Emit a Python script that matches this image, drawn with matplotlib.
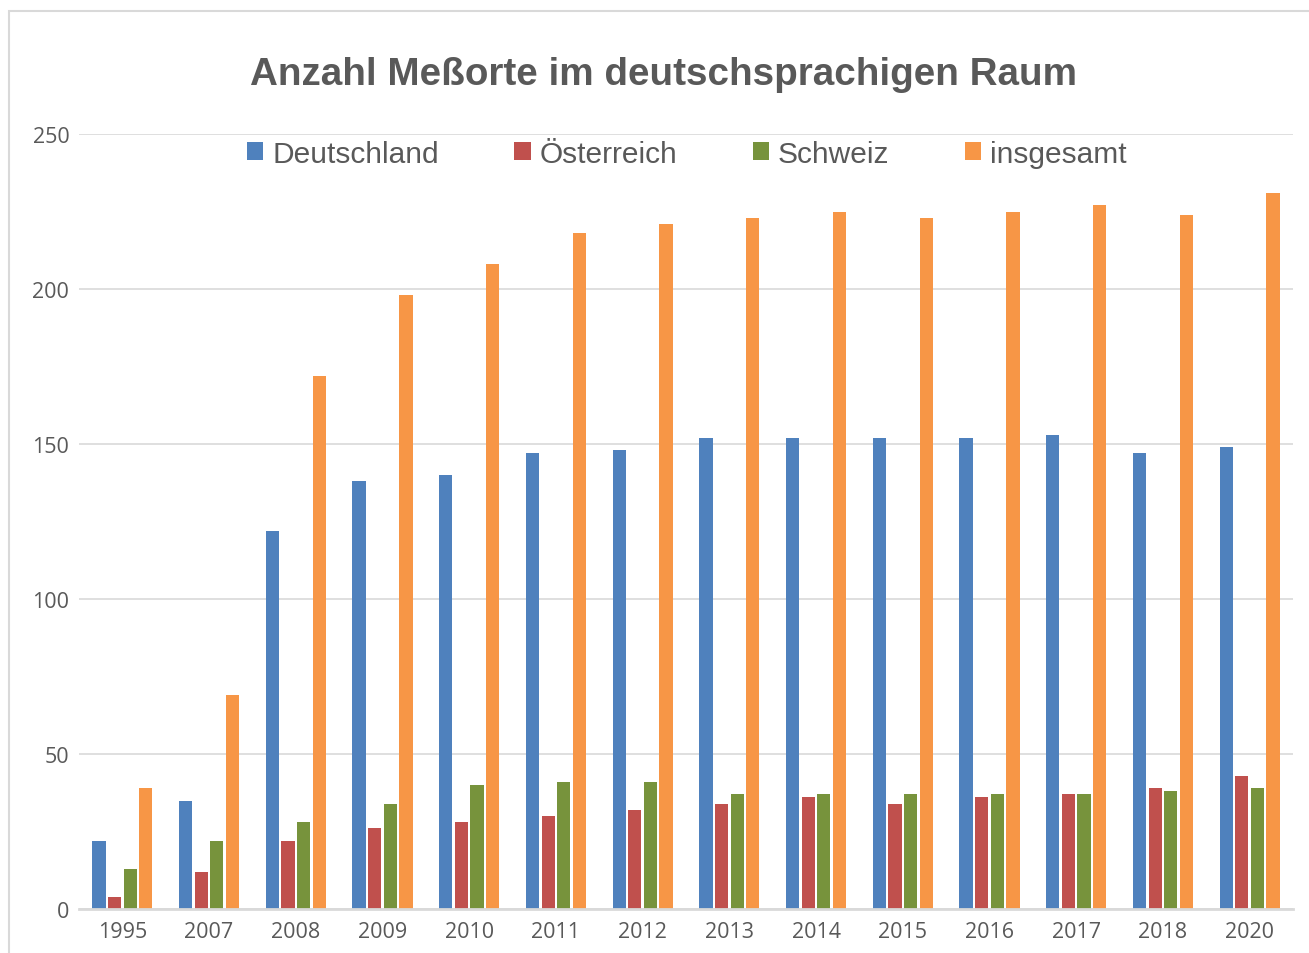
import numpy as np
import matplotlib
matplotlib.use('Agg')
import matplotlib.pyplot as plt
import matplotlib.patches as pc

# Data
years = ['1995', '2007', '2008', '2009', '2010', '2011', '2012',
         '2013', '2014', '2015', '2016', '2017', '2018', '2020']
deutschland = [22, 35, 122, 138, 140, 147, 148, 152, 152, 152, 152, 153, 147, 149]
oesterreich = [4, 12, 22, 26, 28, 30, 32, 34, 36, 34, 36, 37, 39, 43]
schweiz = [13, 22, 28, 34, 40, 41, 41, 37, 37, 37, 37, 37, 38, 39]
insgesamt = [39, 69, 172, 198, 208, 218, 221, 223, 225, 223, 225, 227, 224, 231]

series = [('Deutschland', deutschland, '#4F81BD'),
          ('Österreich', oesterreich, '#C0504D'),
          ('Schweiz', schweiz, '#77933C'),
          ('insgesamt', insgesamt, '#F79646')]

W, H = 1309, 954
fig = plt.figure(figsize=(W / 100, H / 100), dpi=100)

# chart frame (cut off at right/bottom like the original)
fig.patches.append(pc.Rectangle((9 / W, -0.05), 1.2, 1 - 12 / H + 0.05,
                                transform=fig.transFigure, fill=False,
                                edgecolor='#D9D9D9', linewidth=1.5))

ax = fig.add_axes([79 / W, 1 - 910 / H, (1293 - 79) / W, (910 - 135) / H])

x = np.arange(len(years))
step = 0.18
width = 0.152
for i, (name, vals, col) in enumerate(series):
    ax.bar(x + (i - 1.5) * step, vals, width, color=col, label=name, zorder=3)

ax.set_xlim(-0.5, len(years) - 0.5)
ax.set_ylim(0, 250)
ax.set_yticks([0, 50, 100, 150, 200, 250])
ax.set_xticks(x)
ax.set_xticklabels(years)
ax.yaxis.grid(True, color='#D9D9D9', linewidth=1.2, zorder=0)
for s in ['top', 'right', 'left']:
    ax.spines[s].set_visible(False)
ax.spines['bottom'].set_color('#D9D9D9')
ax.spines['bottom'].set_linewidth(2)
ax.spines['bottom'].set_zorder(4)
ax.tick_params(length=0, colors='#595959', labelsize=15.5)
ax.tick_params(axis='y', pad=7)
ax.tick_params(axis='x', pad=9)
for lab in ax.get_xticklabels() + ax.get_yticklabels():
    lab.set_family('Open Sans')

fig.text(663.5 / W, 1 - 75 / H, 'Anzahl Meßorte im deutschsprachigen Raum',
         ha='center', va='center', fontsize=27.8, fontweight='bold',
         color='#595959', family='Liberation Sans')

leg = ax.legend(loc='center left', bbox_to_anchor=(247 / W, 1 - 155 / H),
                bbox_transform=fig.transFigure, ncol=4, frameon=False,
                handlelength=0.55, handleheight=0.55, handletextpad=0.3,
                columnspacing=2.52, borderaxespad=0, borderpad=0,
                prop={'family': 'Liberation Sans', 'size': 21.5})
for t in leg.get_texts():
    t.set_color('#595959')

fig.savefig('out.png', dpi=100, facecolor='white')
